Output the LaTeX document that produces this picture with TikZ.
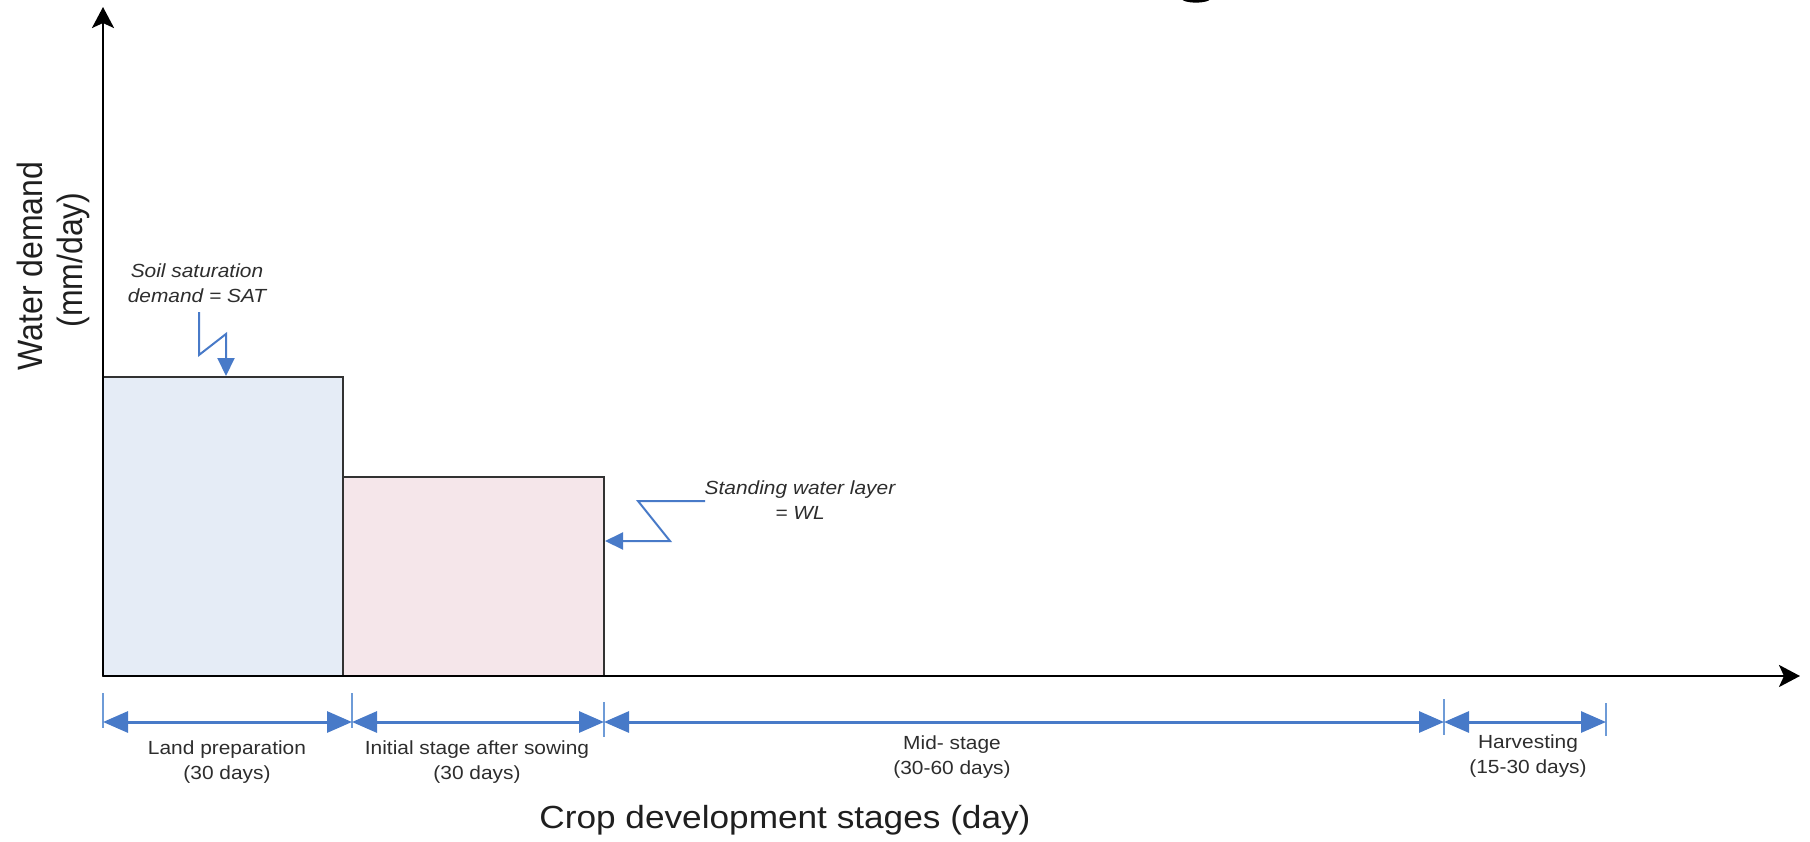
\documentclass[tikz,border=0pt]{standalone}
\usepackage{fontspec}
\setmainfont{Liberation Sans}
\usepackage{graphicx}
\usetikzlibrary{arrows.meta}
\definecolor{arrblue}{RGB}{72,122,200}
\definecolor{tickblue}{RGB}{110,155,215}
\definecolor{fillblue}{RGB}{229,236,246}
\definecolor{fillpink}{RGB}{245,230,234}
\definecolor{txtgray}{RGB}{45,45,45}
\definecolor{edgegray}{RGB}{50,50,50}
\newcommand{\hs}[1]{\scalebox{1.1}[1]{#1}}
\newcommand{\vsc}[1]{\scalebox{1}[1.1]{#1}}
\begin{document}
\begin{tikzpicture}[x=0.5pt,y=-0.5pt,
  axisline/.style={line width=1.4pt, draw=black, -{Stealth[length=10.5pt,width=11pt,inset=2.5pt]}},
  bar/.style={draw=edgegray, line width=1.4pt},
  dimline/.style={draw=arrblue, line width=1.5pt, {Triangle[length=12.5pt,width=10.5pt]}-{Triangle[length=12.5pt,width=10.5pt]}},
  tickmark/.style={draw=tickblue, line width=1pt},
  callout/.style={draw=arrblue, line width=1pt, line join=miter, -{Triangle[length=9pt,width=8.5pt]}},
  lbl/.style={anchor=base, align=center, font=\fontsize{9.5pt}{12.5pt}\selectfont, text=txtgray, inner sep=0pt},
  note/.style={lbl, font=\fontsize{9.5pt}{12.5pt}\selectfont\itshape},
  big/.style={anchor=base, font=\fontsize{16pt}{19pt}\selectfont, text=black!88, inner sep=0pt}
]
\useasboundingbox (0,0) rectangle (1810,841);

% small mark at top edge
\fill[black] (1196,-1) ellipse [x radius=7pt, y radius=1.8pt];

% bars
\draw[bar, fill=fillblue] (103,377) rectangle (343,676);
\draw[bar, fill=fillpink] (343,477) rectangle (604,676);

% axes
\coordinate (O) at (103,676);
\coordinate (ytip) at (103,7);
\coordinate (xtip) at (1800,676);
\draw[axisline] (O) -- (ytip);
\draw[axisline] (O) -- (xtip);

% axis labels
\node[big, rotate=90] (ylab1) at (42,266) {\vsc{Water demand}};
\node[big, rotate=90] (ylab2) at (83,260) {\vsc{(mm/day)}};
\node[big] (xlab) at (785,828) {\hs{Crop development stages (day)}};

% callouts (base anchor = baseline of the last line)
\node[note] (satnote) at (197,302) {\hs{Soil saturation}\\\hs{demand = SAT}};
\coordinate (sat0) at (199,312);
\coordinate (satpt) at (226,376);
\draw[callout] (sat0) -- (199,355) -- (226,334) -- (satpt);

\node[note] (wlnote) at (800,519) {\hs{Standing water layer}\\\hs{= WL}};
\coordinate (wl0) at (705,501);
\coordinate (wlpt) at (605,541);
\draw[callout] (wl0) -- (638,501) -- (670,541) -- (wlpt);

% dimension lines
\coordinate (d0) at (103,722);
\coordinate (d1) at (352,722);
\coordinate (d2) at (604,722);
\coordinate (d3) at (1444,722);
\coordinate (d4) at (1606,722);
\draw[tickmark] (103,693) -- (103,728);
\draw[tickmark] (352,693) -- (352,728);
\draw[tickmark] (604,702) -- (604,737);
\draw[tickmark] (1444,699) -- (1444,735);
\draw[tickmark] (1606,703) -- (1606,736);
\draw[dimline] (d0) -- (d1);
\draw[dimline] (d1) -- (d2);
\draw[dimline] (d2) -- (d3);
\draw[dimline] (d3) -- (d4);

% stage labels
\node[lbl] (s1) at (227,779) {\hs{Land preparation}\\\hs{(30 days)}};
\node[lbl] (s2) at (477,779) {\hs{Initial stage after sowing}\\\hs{(30 days)}};
\node[lbl] (s3) at (952,774) {\hs{Mid- stage}\\\hs{(30-60 days)}};
\node[lbl] (s4) at (1528,773) {\hs{Harvesting}\\\hs{(15-30 days)}};
\end{tikzpicture}
\end{document}
